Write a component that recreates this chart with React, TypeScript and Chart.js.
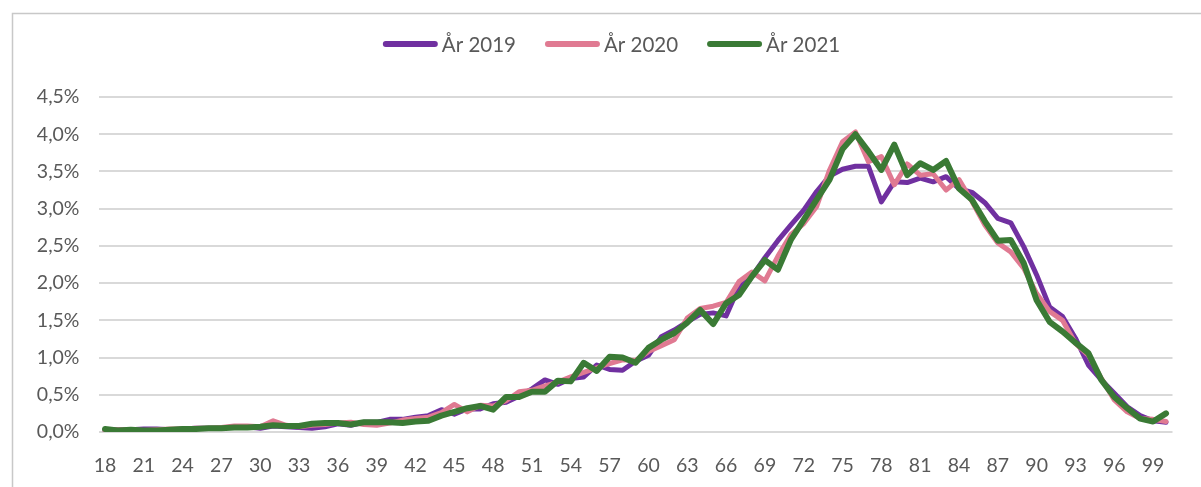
import React, { useEffect, useRef } from 'react';
import { Chart, registerables } from 'chart.js';

Chart.register(...registerables);

const ages: string[] = [
  '18','19','20','21','22','23','24','25','26','27','28','29','30','31','32','33','34','35','36','37',
  '38','39','40','41','42','43','44','45','46','47','48','49','50','51','52','53','54','55','56','57',
  '58','59','60','61','62','63','64','65','66','67','68','69','70','71','72','73','74','75','76','77',
  '78','79','80','81','82','83','84','85','86','87','88','89','90','91','92','93','94','95','96','97',
  '98','99','100',
];

const shownAgeLabels: string[] = [
  '18','21','24','27','30','33','36','39','42','45','48','51','54','57','60','63','66','69','72','75',
  '78','81','84','87','90','93','96','99',
];

const yTickValues: number[] = [0, 0.5, 1, 1.5, 2, 2.5, 3, 3.5, 4, 4.5];

const seriesLabels: string[] = ['År 2019', 'År 2020', 'År 2021'];

const values2019: number[] = [
  0.03, 0.03, 0.03, 0.04, 0.04, 0.03, 0.04, 0.05, 0.05, 0.05, 0.07, 0.07, 0.05, 0.08, 0.07, 0.06, 0.05, 0.07, 0.11, 0.09,
  0.13, 0.13, 0.17, 0.17, 0.20, 0.22, 0.30, 0.24, 0.31, 0.31, 0.38, 0.40, 0.48, 0.58, 0.70, 0.64, 0.72, 0.74, 0.90, 0.84,
  0.83, 0.95, 1.03, 1.28, 1.37, 1.48, 1.58, 1.60, 1.56, 1.95, 2.09, 2.34, 2.57, 2.78, 2.98, 3.23, 3.44, 3.53, 3.57, 3.57,
  3.09, 3.36, 3.35, 3.41, 3.36, 3.43, 3.27, 3.22, 3.08, 2.87, 2.81, 2.49, 2.11, 1.68, 1.55, 1.26, 0.90, 0.70, 0.52, 0.34,
  0.22, 0.15, 0.13,
];

const values2020: number[] = [
  0.02, 0.03, 0.03, 0.02, 0.03, 0.04, 0.04, 0.05, 0.05, 0.06, 0.08, 0.08, 0.07, 0.15, 0.09, 0.07, 0.09, 0.10, 0.12, 0.13,
  0.10, 0.09, 0.12, 0.16, 0.18, 0.20, 0.26, 0.37, 0.27, 0.36, 0.35, 0.42, 0.54, 0.56, 0.62, 0.67, 0.74, 0.80, 0.86, 0.92,
  0.97, 0.96, 1.08, 1.16, 1.24, 1.53, 1.66, 1.69, 1.74, 2.02, 2.15, 2.03, 2.36, 2.65, 2.80, 3.03, 3.52, 3.90, 4.03, 3.63,
  3.70, 3.32, 3.60, 3.45, 3.47, 3.25, 3.39, 3.10, 2.78, 2.54, 2.42, 2.20, 1.86, 1.62, 1.50, 1.19, 1.03, 0.72, 0.43, 0.27,
  0.18, 0.17, 0.14,
];

const values2021: number[] = [
  0.04, 0.02, 0.03, 0.02, 0.02, 0.03, 0.04, 0.04, 0.05, 0.05, 0.06, 0.06, 0.07, 0.09, 0.08, 0.08, 0.11, 0.12, 0.12, 0.10,
  0.13, 0.13, 0.13, 0.12, 0.14, 0.15, 0.22, 0.27, 0.32, 0.35, 0.30, 0.47, 0.47, 0.54, 0.54, 0.69, 0.68, 0.93, 0.82, 1.01,
  1.00, 0.93, 1.13, 1.24, 1.33, 1.47, 1.64, 1.45, 1.73, 1.84, 2.09, 2.31, 2.18, 2.58, 2.85, 3.12, 3.39, 3.80, 4.00, 3.77,
  3.52, 3.86, 3.45, 3.61, 3.52, 3.64, 3.27, 3.12, 2.83, 2.57, 2.58, 2.27, 1.77, 1.48, 1.35, 1.20, 1.06, 0.70, 0.47, 0.32,
  0.18, 0.14, 0.25,
];

const colors: string[] = ['#7030A0', '#E07A92', '#3A7A35'];

const FONT = 'Lato, "Open Sans", sans-serif';
const TEXT_COLOR = '#595959';

const framePlugin = {
  id: 'frame',
  beforeDraw(chart: any) {
    const ctx = chart.ctx as CanvasRenderingContext2D;
    ctx.save();
    ctx.fillStyle = '#ffffff';
    ctx.fillRect(0, 0, chart.width, chart.height);
    ctx.strokeStyle = '#c8c8c8';
    ctx.lineWidth = 1.5;
    ctx.beginPath();
    ctx.moveTo(12.5, chart.height);
    ctx.lineTo(12.5, 13.5);
    ctx.lineTo(chart.width, 13.5);
    ctx.stroke();
    ctx.restore();
  },
};

const legendPlugin = {
  id: 'customLegend',
  afterDraw(chart: any) {
    const ctx = chart.ctx as CanvasRenderingContext2D;
    const ds = chart.data.datasets;
    ctx.save();
    ctx.font = `20.5px ${FONT}`;
    const sw = 55;
    const gap = 4;
    const itemGap = 29;
    const widths = ds.map((d: any) => ctx.measureText(d.label).width);
    const total = widths.reduce((a: number, w: number) => a + sw + gap + w, 0) + itemGap * (ds.length - 1);
    let x = 611.5 - total / 2;
    const y = 44;
    ds.forEach((d: any, i: number) => {
      ctx.strokeStyle = d.borderColor;
      ctx.lineWidth = 6;
      ctx.lineCap = 'round';
      ctx.beginPath();
      ctx.moveTo(x + 3, y);
      ctx.lineTo(x + sw - 3, y);
      ctx.stroke();
      x += sw + gap;
      ctx.fillStyle = TEXT_COLOR;
      ctx.textBaseline = 'middle';
      ctx.textAlign = 'left';
      ctx.fillText(d.label, x, y + 1);
      x += widths[i] + itemGap;
    });
    ctx.restore();
  },
};

export default function App() {
  const canvasRef = useRef<HTMLCanvasElement | null>(null);

  useEffect(() => {
    document.body.style.margin = '0';
    const canvas = canvasRef.current;
    if (!canvas) return;
    const seriesValues = [values2019, values2020, values2021];
    const widthsPx = [5, 5, 6];
    const chart = new Chart(canvas, {
      type: 'line',
      data: {
        labels: ages,
        datasets: seriesLabels.map((label, i) => ({
          label,
          data: seriesValues[i],
          borderColor: colors[i],
          backgroundColor: colors[i],
          borderWidth: widthsPx[i],
          pointRadius: 0,
          pointHoverRadius: 0,
          tension: 0,
          borderJoinStyle: 'round' as const,
          borderCapStyle: 'round' as const,
          fill: false,
          order: 3 - i,
        })),
      },
      options: {
        responsive: false,
        animation: false,
        events: [],
        layout: { padding: { top: 97, right: 28.5, bottom: 0, left: 0 } },
        plugins: {
          legend: { display: false },
          tooltip: { enabled: false },
          title: { display: false },
        },
        scales: {
          x: {
            type: 'category',
            offset: true,
            grid: { display: false, drawTicks: false },
            border: { display: false },
            ticks: {
              autoSkip: false,
              maxRotation: 0,
              minRotation: 0,
              padding: 22,
              color: TEXT_COLOR,
              font: { family: FONT, size: 19.5 },
              callback: (_v: any, idx: number) => (shownAgeLabels.includes(ages[idx]) ? ages[idx] : ''),
            },
            afterFit: (scale: any) => {
              scale.height = 55;
            },
          },
          y: {
            min: 0,
            max: 4.5,
            afterBuildTicks: (scale: any) => {
              scale.ticks = yTickValues.map((v) => ({ value: v }));
            },
            grid: { color: '#d9d9d9', lineWidth: 2, drawTicks: false },
            border: { display: false },
            ticks: {
              padding: 19,
              color: TEXT_COLOR,
              font: { family: FONT, size: 19.5 },
              callback: (v: any) => `${Number(v).toFixed(1).replace('.', ',')}%`,
            },
            afterFit: (scale: any) => {
              scale.width = 98.5;
            },
          },
        },
      },
      plugins: [framePlugin, legendPlugin],
    });
    return () => chart.destroy();
  }, []);

  return (
    <div style={{ width: 1201, height: 487 }}>
      <canvas ref={canvasRef} width={1201} height={487} style={{ display: 'block' }} />
    </div>
  );
}
